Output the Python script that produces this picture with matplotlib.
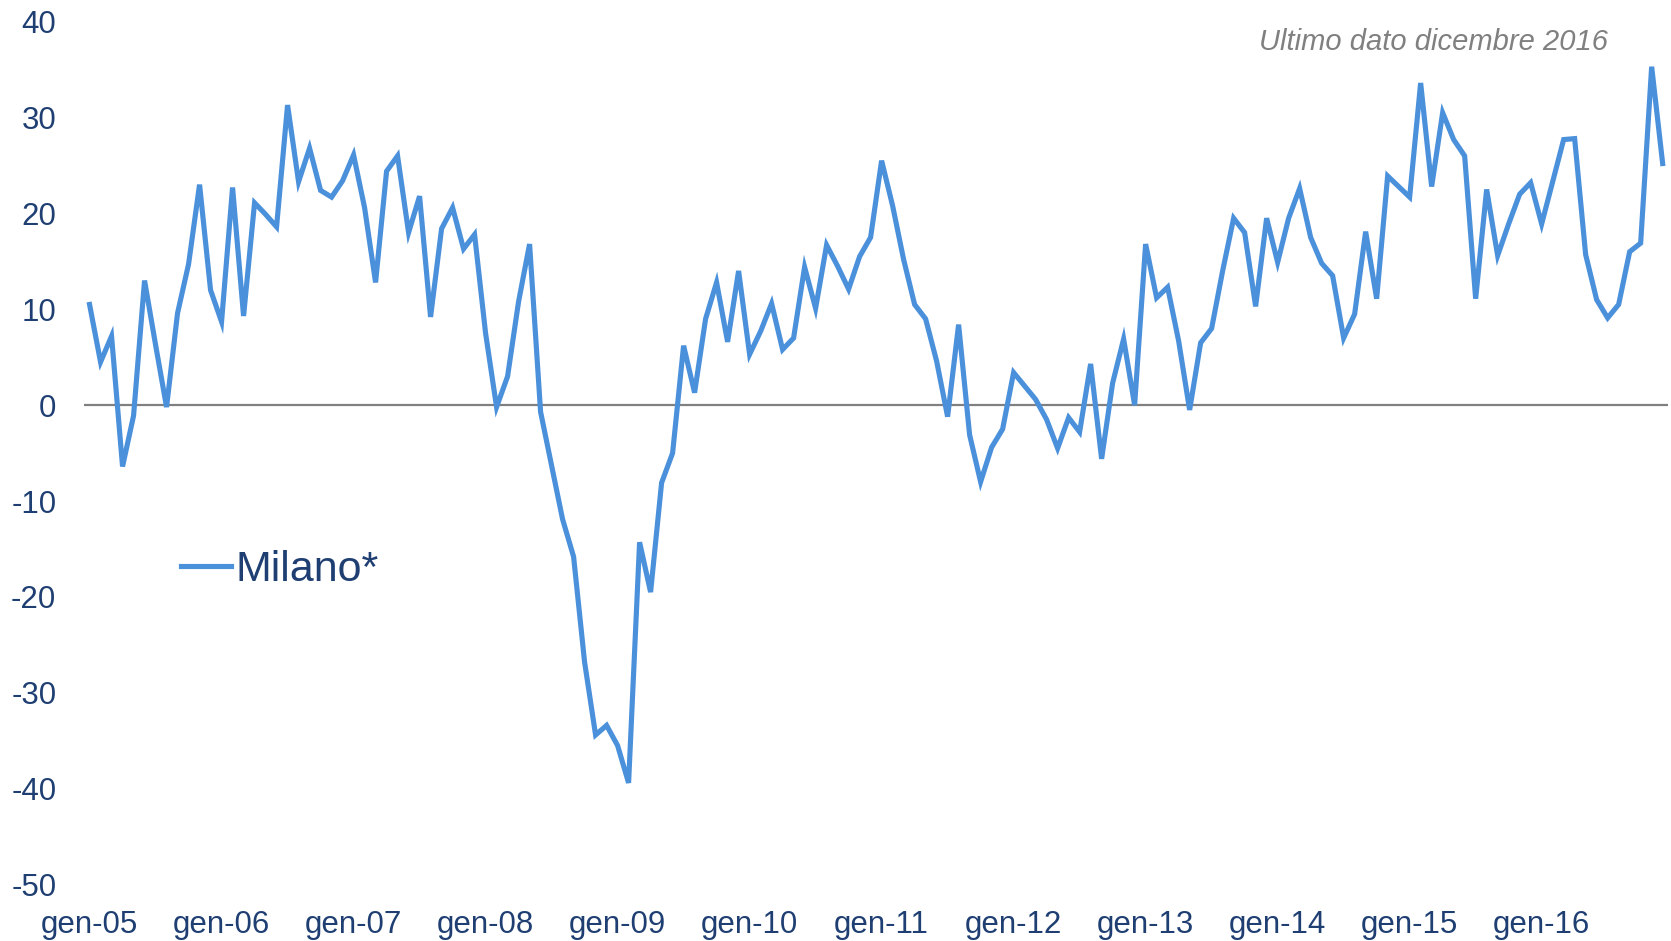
"""Milano* monthly index, gen-05 .. dic-16."""

import matplotlib
matplotlib.use("Agg")
import matplotlib.pyplot as plt
import numpy as np

plt.rcParams["font.family"] = ["Liberation Sans", "DejaVu Sans"]

# monthly values, one list per year
y2005 = [10.5, 4.5, 7.2, -6.4, -1.1, 13.0, 6.3, -0.2, 9.6, 14.7, 23.0, 12.0]
y2006 = [8.7, 22.7, 9.3, 21.1, 19.9, 18.6, 31.3, 23.3, 26.8, 22.4, 21.7, 23.4]
y2007 = [26.1, 20.6, 12.8, 24.4, 26.0, 18.0, 21.8, 9.2, 18.4, 20.6, 16.3, 17.8]
y2008 = [7.5, -0.2, 3.0, 10.8, 16.8, -0.7, -6.3, -11.9, -15.8, -26.8, -34.4, -33.4]
y2009 = [-35.5, -39.4, -14.3, -19.5, -8.1, -5.0, 6.2, 1.3, 9.0, 12.8, 6.6, 14.0]
y2010 = [5.3, 7.7, 10.6, 5.8, 7.0, 14.4, 10.1, 16.7, 14.5, 12.1, 15.5, 17.5]
y2011 = [25.5, 20.8, 15.2, 10.5, 9.0, 4.6, -1.2, 8.4, -3.1, -8.0, -4.4, -2.5]
y2012 = [3.4, 2.0, 0.6, -1.5, -4.5, -1.3, -2.8, 4.3, -5.6, 2.3, 6.9, 0.0]
y2013 = [16.8, 11.2, 12.3, 6.7, -0.5, 6.5, 8.0, 14.0, 19.5, 18.0, 10.3, 19.5]
y2014 = [14.9, 19.5, 22.6, 17.5, 14.8, 13.5, 7.0, 9.5, 18.1, 11.1, 23.9, 22.8]
y2015 = [21.7, 33.6, 22.8, 30.5, 27.7, 26.0, 11.1, 22.5, 15.6, 18.9, 22.0, 23.2]
y2016 = [18.9, 23.3, 27.7, 27.8, 15.7, 11.0, 9.1, 10.5, 16.0, 16.9, 35.3, 25.2]

years = ["05", "06", "07", "08", "09", "10", "11", "12", "13", "14", "15", "16"]
tick_labels = ["gen-" + y for y in years]
y_ticks = [40, 30, 20, 10, 0, -10, -20, -30, -40, -50]

milano = (y2005 + y2006 + y2007 + y2008 + y2009 + y2010
          + y2011 + y2012 + y2013 + y2014 + y2015 + y2016)
months = np.arange(len(milano))

TICK_COLOR = "#1F3F73"
LINE_COLOR = "#4A90DB"

fig = plt.figure(figsize=(16.71, 9.41), dpi=100)
ax = fig.add_axes([0.0503, 0.060, 0.948, 0.917])

ax.axhline(0, color="#808080", linewidth=1.6, zorder=1)
ax.plot(months, milano, color=LINE_COLOR, linewidth=3.7,
        solid_joinstyle="miter", label="Milano*", zorder=2)

ax.set_xlim(-0.5, len(milano) - 0.5)
ax.set_ylim(-50, 40)
ax.set_xticks(months[::12])
ax.set_xticklabels(tick_labels)
ax.set_yticks(y_ticks)
ax.set_yticklabels([str(v) for v in y_ticks])
ax.tick_params(axis="both", length=0, labelsize=22.5, labelcolor=TICK_COLOR)
ax.tick_params(axis="y", pad=20)
ax.tick_params(axis="x", pad=18)
for s in ax.spines.values():
    s.set_visible(False)

leg = ax.legend(loc="upper left", bbox_to_anchor=(0.041, 0.4255), frameon=True,
                fontsize=31, handlelength=1.15, handletextpad=0.12,
                borderpad=0.25, fancybox=False)
leg.get_frame().set_edgecolor("none")
leg.get_frame().set_facecolor("white")
for t in leg.get_texts():
    t.set_color(TICK_COLOR)

fig.text(0.962, 0.955, "Ultimo dato dicembre 2016", fontsize=21,
         style="italic", color="#808080", ha="right", va="center")

fig.savefig("out.png", dpi=100)
